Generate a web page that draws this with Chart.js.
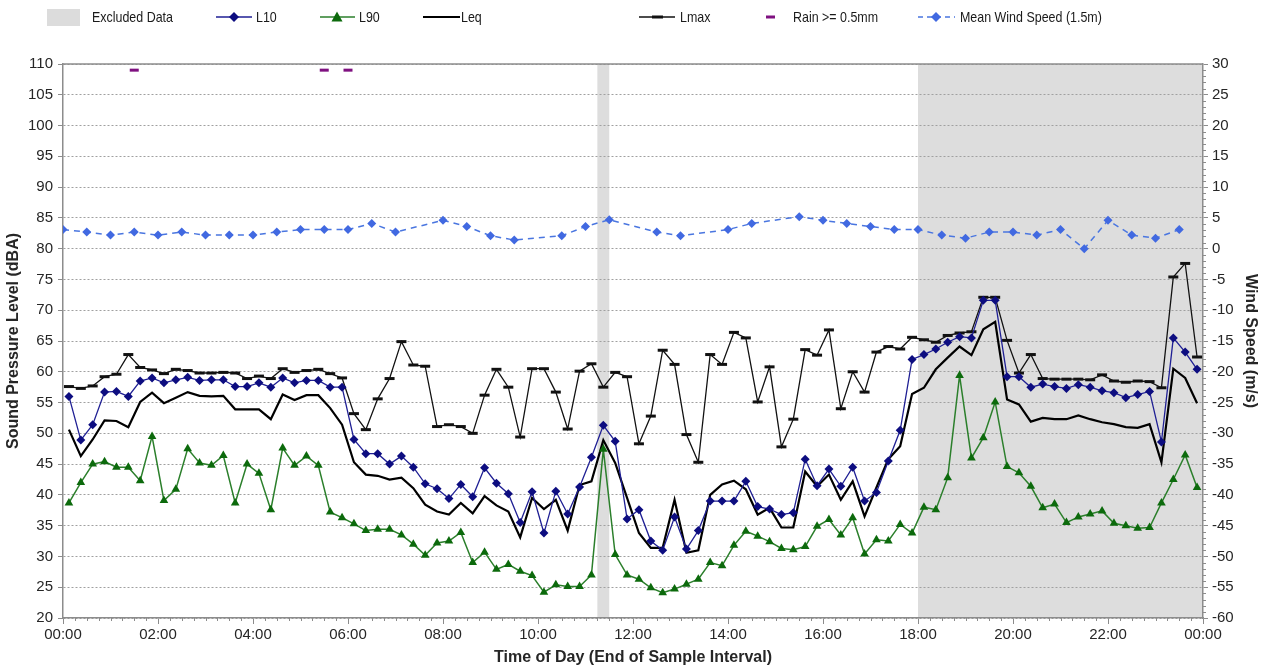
<!DOCTYPE html>
<html>
<head>
<meta charset="utf-8">
<script src="https://cdn.jsdelivr.net/npm/chart.js@4.4.1/dist/chart.umd.min.js"></script>
<style>
  html, body { margin: 0; padding: 0; background: #fff; }
  #wrap { width: 1264px; height: 670px; }
</style>
</head>
<body>
<div id="wrap"><canvas id="chart" width="1264" height="670"></canvas></div>
<script>
// 15 minute intervals, 00:00 - 24:00 (96 values each)
const L10 = [
  56.0, 48.9, 51.4, 56.7, 56.8, 56.0, 58.5, 59.0, 58.2, 58.7, 59.1, 58.6, 58.7, 58.7, 57.6, 57.6,
  58.2, 57.5, 59.0, 58.2, 58.6, 58.6, 57.5, 57.5, 49.0, 46.7, 46.7, 45.0, 46.3, 44.5, 41.8, 41.0,
  39.4, 41.7, 39.7, 44.4, 41.9, 40.2, 35.5, 40.5, 33.8, 40.6, 36.9, 41.3, 46.1, 51.3, 48.7, 36.1,
  37.6, 32.5, 31.0, 36.4, 31.2, 34.2, 39.0, 39.0, 39.0, 42.2, 38.1, 37.7, 36.8, 37.1, 45.8, 41.5,
  44.2, 41.4, 44.5, 39.0, 40.4, 45.5, 50.5, 62.0, 62.8, 63.7, 64.8, 65.7, 65.5, 71.6, 71.6, 59.2,
  59.2, 57.5, 58.0, 57.6, 57.3, 57.9, 57.5, 56.9, 56.6, 55.8, 56.3, 56.8, 48.6, 65.5, 63.2, 60.4
];
const L90 = [
  38.7, 42.0, 45.0, 45.4, 44.5, 44.5, 42.3, 49.5, 39.1, 40.9, 47.5, 45.2, 44.8, 46.4, 38.7, 45.0,
  43.5, 37.6, 47.6, 44.8, 46.3, 44.8, 37.2, 36.3, 35.3, 34.2, 34.4, 34.4, 33.5, 32.0, 30.2, 32.2,
  32.5, 33.9, 29.0, 30.7, 27.9, 28.7, 27.6, 26.9, 24.2, 25.4, 25.1, 25.1, 27.0, 47.4, 30.3, 27.0,
  26.3, 24.9, 24.1, 24.7, 25.5, 26.3, 29.0, 28.5, 31.8, 34.1, 33.3, 32.4, 31.3, 31.1, 31.6, 34.9,
  36.0, 33.5, 36.3, 30.4, 32.7, 32.5, 35.2, 33.8, 38.0, 37.6, 42.8, 59.4, 46.0, 49.3, 55.1, 44.6,
  43.6, 41.4, 37.9, 38.5, 35.5, 36.4, 36.9, 37.4, 35.4, 35.0, 34.6, 34.7, 38.7, 42.5, 46.5, 41.2
];
const Leq = [
  50.6, 46.3, 49.0, 52.1, 52.0, 51.0, 55.1, 56.6, 54.9, 55.8, 56.7, 56.1, 56.0, 56.1, 53.9, 53.9,
  53.9, 52.3, 56.3, 55.4, 56.2, 56.2, 54.1, 51.4, 45.3, 43.3, 43.1, 42.5, 42.8, 41.1, 38.4, 37.3,
  36.8, 38.7, 37.0, 39.8, 38.3, 37.3, 33.1, 39.5, 37.7, 39.2, 34.2, 41.6, 42.2, 48.9, 45.2, 39.5,
  33.8, 31.4, 31.4, 39.2, 30.6, 31.0, 40.0, 41.7, 42.3, 40.9, 36.8, 37.9, 34.7, 34.7, 43.8, 41.4,
  43.3, 39.2, 42.2, 36.5, 41.2, 45.8, 47.9, 56.4, 57.4, 60.4, 62.3, 64.1, 62.7, 66.9, 68.1, 55.5,
  54.7, 51.9, 52.5, 52.3, 52.3, 52.9, 52.3, 51.8, 51.5, 51.0, 50.9, 51.5, 45.3, 60.5, 59.0, 54.9
];
const Lmax = [
  57.6, 57.3, 57.7, 59.2, 59.6, 62.8, 60.7, 60.3, 59.7, 60.4, 60.2, 59.8, 59.8, 59.9, 59.8, 58.9,
  59.3, 58.9, 60.5, 59.9, 60.2, 60.4, 59.7, 59.0, 53.2, 50.6, 55.6, 58.9, 64.9, 61.1, 60.9, 51.1,
  51.4, 51.1, 50.0, 56.2, 60.4, 57.5, 49.4, 60.5, 60.5, 56.7, 50.7, 60.1, 61.3, 57.5, 59.9, 59.2,
  48.3, 52.8, 63.5, 61.2, 49.8, 45.3, 62.8, 61.2, 66.4, 65.5, 55.1, 60.8, 47.8, 52.3, 63.6, 62.7,
  66.8, 54.0, 60.0, 56.7, 63.2, 64.1, 63.7, 65.6, 65.2, 64.8, 65.9, 66.3, 66.5, 72.1, 72.1, 65.1,
  59.8, 62.8, 58.9, 58.8, 58.8, 58.8, 58.7, 59.5, 58.5, 58.3, 58.5, 58.4, 57.4, 75.4, 77.6, 62.4
];
// 30 minute wind readings from 00:00 (null = no reading)
const windSpeed = [
  3.1, 2.7, 2.2, 2.7, 2.2, 2.7, 2.2, 2.2, 2.2, 2.7, 3.1, 3.1, 3.1, 4.1, 2.7, null,
  4.6, 3.6, 2.1, 1.4, null, 2.1, 3.6, 4.7, null, 2.7, 2.1, null, 3.1, 4.1, null, 5.2,
  4.6, 4.1, 3.6, 3.1, 3.1, 2.2, 1.7, 2.7, 2.7, 2.2, 3.1, 0.0, 4.6, 2.2, 1.7, 3.1
];
// hours with rain >= 0.5mm, marker level on wind axis
const rainHours = [1.5, 5.5, 6.0];
const rainLevel = 29;
// excluded periods [start, end] in hours
const excluded = [[11.25, 11.5], [18, 24]];

const FONT = "'Liberation Sans', Arial, sans-serif";
Chart.defaults.font.family = FONT;
Chart.defaults.color = '#262626';

const AXIS = '#8c8c8c';
const hh = v => String(v % 24).padStart(2, '0') + ':00';
const quarterly = arr => arr.map((v, i) => ({ x: (i + 0.5) / 4, y: v }));
const halfHourly = arr => arr.map((v, i) => ({ x: i / 2, y: v }));

const bandsPlugin = {
  id: 'bands',
  beforeDraw(chart) {
    const { ctx, chartArea: a, scales: { x } } = chart;
    ctx.save();
    ctx.fillStyle = '#dddddd';
    excluded.forEach(([s, e]) => {
      const x1 = x.getPixelForValue(s), x2 = x.getPixelForValue(e);
      ctx.fillRect(x1, a.top, x2 - x1, a.bottom - a.top);
    });
    ctx.restore();
  },
  beforeDatasetsDraw(chart) {
    const { ctx, chartArea: a, scales: { x, y2 } } = chart;
    ctx.save();
    ctx.strokeStyle = AXIS;
    ctx.lineWidth = 1.5;
    ctx.beginPath();
    ctx.moveTo(a.left, a.top);
    ctx.lineTo(a.right, a.top);
    ctx.stroke();
    // minor ticks
    ctx.lineWidth = 1;
    ctx.beginPath();
    for (let q = 0; q <= 96; q++) {
      if (q % 8 === 0) continue;
      const px = Math.round(x.getPixelForValue(q / 4)) + 0.5;
      ctx.moveTo(px, a.bottom);
      ctx.lineTo(px, a.bottom + 3);
    }
    for (let w = -60; w <= 30; w++) {
      if (w % 5 === 0) continue;
      const py = Math.round(y2.getPixelForValue(w)) + 0.5;
      ctx.moveTo(a.right, py);
      ctx.lineTo(a.right + 3, py);
    }
    ctx.stroke();
    ctx.restore();
  }
};

function diamond(ctx, cx, cy, r, color) {
  ctx.fillStyle = color;
  ctx.beginPath();
  ctx.moveTo(cx, cy - r); ctx.lineTo(cx + r, cy); ctx.lineTo(cx, cy + r); ctx.lineTo(cx - r, cy);
  ctx.closePath(); ctx.fill();
}
function triangle(ctx, cx, cy, r, color) {
  ctx.fillStyle = color;
  ctx.beginPath();
  ctx.moveTo(cx, cy - r); ctx.lineTo(cx + r, cy + r * 0.8); ctx.lineTo(cx - r, cy + r * 0.8);
  ctx.closePath(); ctx.fill();
}
function seg(ctx, x1, x2, y, color, w, dash) {
  ctx.strokeStyle = color; ctx.lineWidth = w; ctx.setLineDash(dash || []);
  ctx.beginPath(); ctx.moveTo(x1, y); ctx.lineTo(x2, y); ctx.stroke();
  ctx.setLineDash([]);
}

const legendPlugin = {
  id: 'topLegend',
  afterDraw(chart) {
    const ctx = chart.ctx;
    const y = 17;
    ctx.save();
    ctx.fillStyle = '#dcdcdc';
    ctx.fillRect(47, 9, 33, 17);
    seg(ctx, 216, 252, y, '#1f1f94', 1.5);
    diamond(ctx, 234, y, 5, '#0d0d80');
    seg(ctx, 320, 355, y, '#2b7f2b', 1.5);
    triangle(ctx, 337, y, 5.5, '#0c6a0c');
    seg(ctx, 423, 460, y, '#000', 2.2);
    seg(ctx, 639, 675, y, '#111', 1.3);
    seg(ctx, 652, 663, y, '#111', 3);
    seg(ctx, 766, 775, y, '#7f1180', 3);
    seg(ctx, 918, 955, y, '#4a76e0', 1.5, [5, 4]);
    diamond(ctx, 936, y, 5, '#4169e1');
    ctx.font = '15px ' + FONT;
    ctx.textBaseline = 'middle';
    ctx.fillStyle = '#1a1a1a';
    [['Excluded Data', 92], ['L10', 256], ['L90', 359], ['Leq', 461], ['Lmax', 680],
     ['Rain >= 0.5mm', 793], ['Mean Wind Speed (1.5m)', 960]].forEach(([t, tx]) => {
      ctx.save();
      ctx.translate(tx, y + 1);
      ctx.scale(0.83, 1);
      ctx.fillText(t, 0, 0);
      ctx.restore();
    });
    ctx.restore();
  }
};

new Chart(document.getElementById('chart').getContext('2d'), {
  type: 'line',
  data: {
    datasets: [
      {
        label: 'L10', data: quarterly(L10), yAxisID: 'y',
        borderColor: '#1f1f94', borderWidth: 1.3,
        pointStyle: 'rectRot', pointRadius: 4.5, pointBorderWidth: 0,
        pointBackgroundColor: '#0d0d80'
      },
      {
        label: 'L90', data: quarterly(L90), yAxisID: 'y',
        borderColor: '#2b7f2b', borderWidth: 1.5,
        pointStyle: 'triangle', pointRadius: 5, pointBorderWidth: 0,
        pointBackgroundColor: '#0c6a0c'
      },
      {
        label: 'Leq', data: quarterly(Leq), yAxisID: 'y',
        borderColor: '#000', borderWidth: 2.2, pointRadius: 0
      },
      {
        label: 'Lmax', data: quarterly(Lmax), yAxisID: 'y',
        borderColor: '#111', borderWidth: 1.3,
        pointStyle: 'line', pointRadius: 5, pointBorderWidth: 3, pointBorderColor: '#111'
      },
      {
        label: 'Rain >= 0.5mm', data: rainHours.map(h => ({ x: h, y: rainLevel })), yAxisID: 'y2',
        showLine: false, pointStyle: 'line', pointRadius: 4.5, pointBorderWidth: 3,
        pointBorderColor: '#7f1180', borderColor: '#7f1180'
      },
      {
        label: 'Mean Wind Speed (1.5m)', data: halfHourly(windSpeed), yAxisID: 'y2',
        spanGaps: true, borderColor: '#4a76e0', borderWidth: 1.5, borderDash: [6, 5],
        pointStyle: 'rectRot', pointRadius: 4.5, pointBorderWidth: 0,
        pointBackgroundColor: '#4169e1'
      }
    ]
  },
  options: {
    responsive: false,
    animation: false,
    events: [],
    layout: { padding: { top: 64, left: 0, right: 0, bottom: 0 } },
    plugins: { legend: { display: false }, tooltip: { enabled: false } },
    scales: {
      x: {
        type: 'linear', position: 'bottom', min: 0, max: 24,
        ticks: { stepSize: 2, autoSkip: false, maxRotation: 0, callback: v => hh(v), font: { size: 15 }, padding: 2 },
        grid: { drawOnChartArea: false, tickLength: 6, tickColor: AXIS },
        border: { color: AXIS, width: 1.5 },
        title: { display: true, text: 'Time of Day (End of Sample Interval)', font: { size: 16, weight: 'bold' }, padding: { top: 0, bottom: 3 } },
        afterFit: s => { s.height = 52; }
      },
      y: {
        position: 'left', min: 20, max: 110,
        ticks: { stepSize: 5, font: { size: 15 }, padding: 5 },
        grid: { color: '#a0a0a0', tickLength: 5, tickColor: AXIS },
        border: { color: AXIS, width: 1.5, dash: [2, 2] },
        title: { display: true, text: 'Sound Pressure Level (dBA)', font: { size: 16, weight: 'bold' }, padding: { top: 4, bottom: 0 } },
        afterFit: s => { s.width = 63; }
      },
      y2: {
        position: 'right', min: -60, max: 30,
        ticks: { stepSize: 5, font: { size: 15 }, padding: 4 },
        grid: { drawOnChartArea: false, tickLength: 5, tickColor: AXIS },
        border: { color: AXIS, width: 1.5 },
        title: { display: true, text: 'Wind Speed (m/s)', font: { size: 16, weight: 'bold' }, padding: { top: 4, bottom: 0 } },
        afterFit: s => { s.width = 61; }
      }
    }
  },
  plugins: [bandsPlugin, legendPlugin]
});
</script>
</body>
</html>
